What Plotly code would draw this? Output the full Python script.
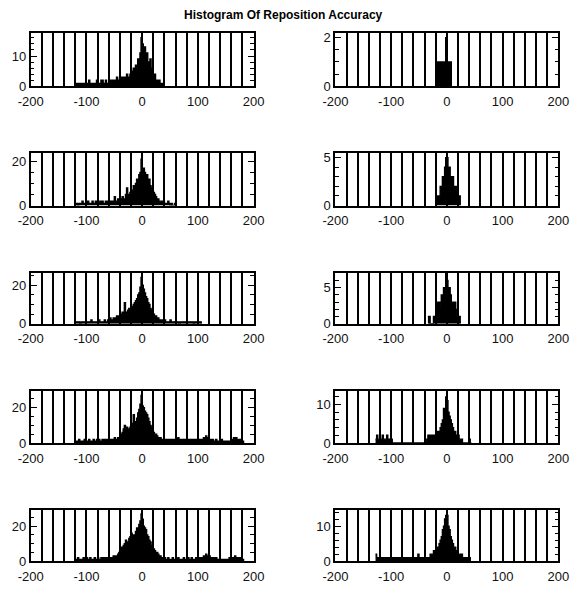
import plotly.graph_objects as go
from plotly.subplots import make_subplots

BIN = 2
TITLE = "Histogram Of Reposition Accuracy"
X_TICK_VALS = [-200, -100, 0, 100, 200]
X_TICK_TEXT = ["-200", "-100", "0", "100", "200"]

# ---- counts per panel (bin width 2, first bin left edge = start) ----
l1_start = -120
l1_counts = [1,0,1,1,0,1,1,1,0,1, 1,1,2,1,1,1,0,1,1,2, 1,1,1,2,2,1,1,2,1,1, 2,1,2,2,1,2,2,3,2,2,
             2,3,2,3,3,2,4,3,3,4,
             5,3,6,4,7,6,9,8,11,16,
             14,12,13,10,11,8,7,9,5,6,
             3,4,2,2,1,2,1,1,1,0]

r1_start = -18
r1_counts = [1,1,1,1,1,1,1,1,2,1,1,1,1]

l2_start = -120
l2_counts = [1,1,0,1,1,1,2,1,1,1, 1,2,1,1,1,2,1,1,2,1, 1,1,2,1,2,1,1,2,2,1, 2,2,1,2,2,4,2,2,3,2,
             3,2,4,3,3,5,8,4,5,6,
             7,6,9,8,10,12,11,14,15,21,
             16,17,15,13,14,11,12,9,8,7,
             6,5,4,3,3,2,2,2,1,2,
             1,1,1,2,1,0,1,0,0,1]

r2_start = -20
r2_counts = [1,1,1,1,2,2,3,3,4,5,5,4,4,3,2,3,2,1,2,1,1,1]

l3_start = -120
l3_counts = [1,1,1,1,0,1,1,1,1,1, 1,1,1,1,2,1,1,1,1,1, 1,2,1,1,1,1,2,1,1,2,
             2,3,2,2,3,2,3,4,3,4,
             5,4,6,5,11,6,5,7,8,7,
             9,8,10,11,12,13,15,16,19,24,
             20,18,16,14,13,11,10,8,7,6,
             5,4,4,3,3,2,2,2,2,1,
             2,1,1,1,1,2,1,1,1,1,
             1,1,1,0,1,1,1,1,1,1,
             1,1,1,1,1,1,0,1,1,1,
             1,1,1]

r3_start = -34
r3_counts = [1,1,0,0,0,1,1,2,3,3,2,3,4,4,5,5,7,6,5,5,4,3,3,2,3,2,1,1,1]

l4_start = -120
l4_counts = [1,1,1,2,1,1,1,1,2,1, 1,1,2,1,1,1,2,1,1,2,
             1,2,1,1,2,1,2,2,1,2, 2,1,2,2,2,3,2,2,3,3,
             4,5,6,8,10,7,9,8,7,9,
             8,11,16,9,12,14,17,19,22,27,
             21,20,18,17,16,14,12,10,9,7,
             6,5,5,4,3,3,3,2,2,2,
             2,2,1,2,2,1,2,2,1,2, 2,2,3,2,1,2,2,1,2,2,
             1,2,2,2,1,2,2,1,2,2, 2,1,2,2,2,3,3,4,3,3,
             2,2,1,2,1,1,2,1,1,1, 1,2,1,1,1,1,1,1,1,1,
             2,2,3,2,3,2,2,1,2,1,1]

r4_start = -128
r4_counts = [1,2,1,1,0,1,2,1,1,1,2,1,0,1,1,
             0,0,0,0,0,0,0,0,0,0, 0,0,0,0,0,0,0,0,0,0, 0,0,0,0,0,0,0,0,0,0, 0,
             1,2,2,1,2,2,2,1,2,3,
             3,3,4,5,6,9,8,12,
             11,8,7,6,5,4,3,3,2,2,
             2,1,1,1,0,0,
             0,0,0,0,1,0]

l5_start = -120
l5_counts = [1,1,2,1,1,1,1,2,1,1, 2,1,1,2,1,1,1,2,1,1,
             2,1,1,2,2,1,2,1,2,2, 2,2,1,2,3,2,3,3,4,5,
             7,8,6,9,10,12,9,11,13,14,
             16,13,15,14,17,19,18,21,23,27,
             24,20,19,18,15,14,12,11,9,8,
             7,6,5,5,4,3,3,2,2,2,
             2,1,1,2,1,1,1,2,1,1, 1,1,2,1,1,1,1,2,1,1,
             1,2,1,1,2,1,1,1,2,2, 1,2,2,2,2,3,3,4,3,2,
             3,2,2,2,2,1,2,1,1,1, 1,1,1,1,1,1,1,1,2,1,
             2,2,2,3,2,2,2,1,2,1,1]

r5_start = -128
r5_counts = [2,1,1,1,0,1,1,1,1,1, 1,1,0,1,1,1,1,1,0,1, 1,1,1,1,1,1,1,0,1,1,
             1,1,1,1,1,1,1,1,2,1, 1,1,1,1,1,1,1,1,1,
             2,2,2,3,3,3,4,4,5,6,7,9,10,12,13,
             13,10,9,7,6,5,4,4,3,2,
             2,2,1,2,1,1,1,0,1,0,1]

# y axis tick values / labels per panel
y_ticks = [[0, 10], [0, 2], [0, 20], [0, 5], [0, 20], [0, 5], [0, 20], [0, 10], [0, 20], [0, 10]]
y_tick_text = [["0", "10"], ["0", "2"], ["0", "20"], ["0", "5"], ["0", "20"], ["0", "5"],
               ["0", "20"], ["0", "10"], ["0", "20"], ["0", "10"]]

panels = [
    (l1_start, l1_counts), (r1_start, r1_counts),
    (l2_start, l2_counts), (r2_start, r2_counts),
    (l3_start, l3_counts), (r3_start, r3_counts),
    (l4_start, l4_counts), (r4_start, r4_counts),
    (l5_start, l5_counts), (r5_start, r5_counts),
]

# axis styling
y_max = [17.5, 2.18, 23.7, 5.44, 26.6, 7.1, 29.6, 13.6, 29.3, 14.6]
y_minor = [2, 0.5, 5, 1, 5, 1, 5, 2, 5, 2]

# page body has an 8px margin: keep the figure inside the window (no scrollbars)
OFF = 8
W, H = 578 - 2 * OFF, 595 - 2 * OFF
col_px = [(31, 257), (340, 566)]          # reference window pixels
row_px = [(33, 87), (155, 208), (276, 328), (396, 449), (517, 569)]


def fx(px):   # reference window x -> figure x fraction
    return (13 + (px - 13) * 0.986 - OFF) / W


def fy(py):   # reference window y -> figure y fraction (from bottom)
    return 1 - (13.5 + (py - 13) * 0.985 - OFF) / H


fig = make_subplots(rows=5, cols=2)

FONT = "Liberation Sans, Arial, Helvetica, sans-serif"

for k, (start, counts) in enumerate(panels):
    r, c = k // 2 + 1, k % 2 + 1
    xs = [start + BIN * i for i in range(len(counts) + 1)]
    ys = list(counts) + [0]
    fig.add_trace(go.Scatter(x=xs, y=ys, mode="lines", line_shape="hv",
                             line=dict(color="black", width=1.4),
                             fill="tozeroy", fillcolor="black",
                             showlegend=False, hoverinfo="skip"), row=r, col=c)
    x0, x1 = col_px[c - 1]
    top, bot = row_px[r - 1]
    fig.update_xaxes(domain=[fx(x0), fx(x1)], range=[-200, 200],
                     tickmode="array", tickvals=X_TICK_VALS, ticktext=X_TICK_TEXT,
                     ticks="", showgrid=True, gridcolor="black", gridwidth=1.6,
                     minor=dict(tickmode="linear", tick0=0, dtick=20, showgrid=True,
                                gridcolor="black", gridwidth=1.6, ticks=""),
                     showline=True, linecolor="black", linewidth=2, mirror=True,
                     zeroline=False, ticklabelstandoff=2, ticklabeloverflow="allow",
                     tickfont=dict(family=FONT, size=13, color="#111"),
                     automargin=False, row=r, col=c)
    fig.update_yaxes(domain=[fy(bot), fy(top)], range=[0, y_max[k]],
                     tickmode="array", tickvals=y_ticks[k], ticktext=y_tick_text[k],
                     ticks="inside", ticklen=6, tickwidth=1.3, tickcolor="black",
                     minor=dict(tickmode="linear", tick0=0, dtick=y_minor[k],
                                ticks="inside", ticklen=3.5, tickwidth=1.2,
                                tickcolor="black", showgrid=False),
                     showgrid=False, zeroline=False,
                     showline=True, linecolor="black", linewidth=2, mirror="ticks",
                     tickfont=dict(family=FONT, size=13, color="#111"),
                     automargin=False, row=r, col=c)

fig.update_layout(
    width=W, height=H,
    margin=dict(l=0, r=0, t=0, b=0),
    paper_bgcolor="white", plot_bgcolor="white",
    title=dict(text=TITLE, x=fx(287), xref="paper", xanchor="center",
               y=1 - (14.5 - OFF) / H, yref="container", yanchor="middle",
               font=dict(family=FONT, size=12, color="black", weight="bold")),
)

fig.write_html("out.html")
